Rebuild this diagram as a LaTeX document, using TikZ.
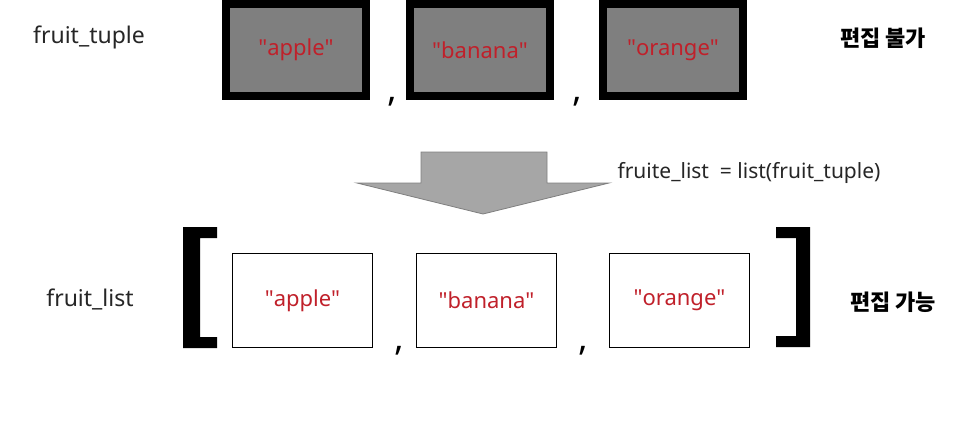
\documentclass[tikz,border=0pt]{standalone}
\usepackage{fontspec}
\setmainfont{Noto Sans}
\newfontfamily\kofont{Noto Sans CJK KR}
\definecolor{fruitred}{HTML}{C0202A}
\definecolor{lockgray}{HTML}{7F7F7F}
\definecolor{arrowgray}{HTML}{A6A6A6}
\definecolor{labelgray}{HTML}{262626}
\newcommand{\qq}[1]{\textquotedbl#1\textquotedbl}
\tikzset{
  tbox/.style={draw=black,line width=8pt,fill=lockgray,minimum width=140pt,
    minimum height=92pt,inner sep=0pt,text=fruitred,font=\fontsize{22}{26}\selectfont},
  lbox/.style={draw=black,line width=1.2pt,minimum width=140pt,
    minimum height=94pt,inner sep=0pt,text=fruitred,font=\fontsize{22}{26}\selectfont},
  comma/.style={anchor=base,inner sep=0pt,font=\bfseries\fontsize{36}{40}\selectfont},
  lbl/.style={text=labelgray,font=\fontsize{23}{27}\selectfont},
  kolbl/.style={text=black,font=\kofont\bfseries\fontsize{22}{26}\selectfont}
}
\begin{document}
\begin{tikzpicture}[x=1pt,y=-1pt]
  \useasboundingbox (0,0) rectangle (963,440);
  % Tuple part of the Figure
  \node[lbl]    (tuple)     at (89,37) {fruit\_tuple};
  \node[tbox]   (T1)        at (296,50) {\qq{apple}};
  \node[tbox]   (T2)        at (480,50) {\qq{banana}};
  \node[tbox]   (T3)        at (673,50) {\qq{orange}};
  \node[comma]  (tc1)       at (392,101) {,};
  \node[comma]  (tc2)       at (577,101) {,};
  \node[kolbl]  (fixed)     at (883,38) {편집 불가};
  % Conversion arrow
  \filldraw[fill=arrowgray,draw=lockgray,line width=0.8pt] (421,152) -- (547,152) -- (547,183) -- (609,183)
        -- (483,214) -- (357,183) -- (421,183) -- cycle;
  \node[lbl,anchor=west,font=\fontsize{21}{25}\selectfont] (conv) at (614,173) {fruite\_list \ = list(fruit\_tuple)};
  % List part of the Figure
  \node[lbl]    (list)      at (90,299) {fruit\_list};
  \fill (183,227) -- (217,227) -- (217,238) -- (200,238) -- (200,337) -- (217,337)
        -- (217,348) -- (183,348) -- cycle;
  \node[lbox]   (L1)        at (302.5,300.5) {\qq{apple}};
  \node[lbox]   (L2)        at (486.5,300.5) {\qq{banana}};
  \node[lbox]   (L3)        at (679.5,300.5) {\qq{orange}};
  \node[comma]  (lc1)       at (399,350) {,};
  \node[comma]  (lc2)       at (583,350) {,};
  \fill (810,227) -- (776,227) -- (776,238) -- (796,238) -- (796,336) -- (776,336)
        -- (776,347) -- (810,347) -- cycle;
  \node[kolbl]  (free)      at (893,302) {편집 가능};
\end{tikzpicture}
\end{document}
